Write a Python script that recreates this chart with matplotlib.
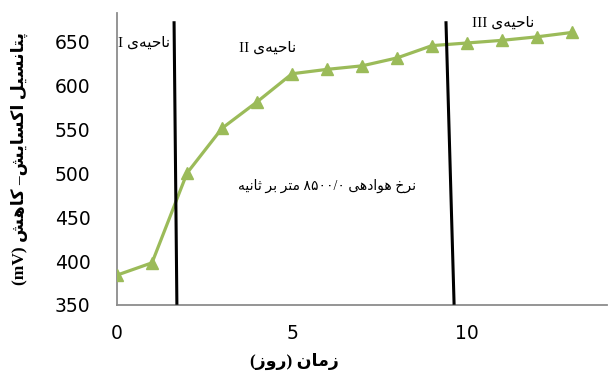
import matplotlib
matplotlib.use('Agg')
import matplotlib.pyplot as plt

# ---- data ----
days = [0, 1, 2, 3, 4, 5, 6, 7, 8, 9, 10, 11, 12, 13]
potential = [384, 398, 500, 551, 581, 613, 618, 622, 631, 645, 648, 651, 655, 660]
boundary1_x = [1.71, 1.63]
boundary2_x = [9.63, 9.40]
boundary_y = [352, 671]
xticks = [0, 5, 10]
yticks = [350, 400, 450, 500, 550, 600, 650]

# ---- simple Persian shaping (matplotlib has no bidi/shaping) ----
DUAL = {
    'ب': ('\uFE8F', '\uFE90', '\uFE91', '\uFE92'),
    'پ': ('\uFB56', '\uFB57', '\uFB58', '\uFB59'),
    'ت': ('\uFE95', '\uFE96', '\uFE97', '\uFE98'),
    'ث': ('\uFE99', '\uFE9A', '\uFE9B', '\uFE9C'),
    'ح': ('\uFEA1', '\uFEA2', '\uFEA3', '\uFEA4'),
    'خ': ('\uFEA5', '\uFEA6', '\uFEA7', '\uFEA8'),
    'س': ('\uFEB1', '\uFEB2', '\uFEB3', '\uFEB4'),
    'ش': ('\uFEB5', '\uFEB6', '\uFEB7', '\uFEB8'),
    'ل': ('\uFEDD', '\uFEDE', '\uFEDF', '\uFEE0'),
    'م': ('\uFEE1', '\uFEE2', '\uFEE3', '\uFEE4'),
    'ن': ('\uFEE5', '\uFEE6', '\uFEE7', '\uFEE8'),
    'ه': ('\uFEE9', '\uFEEA', '\uFEEB', '\uFEEC'),
    'ی': ('\uFBFC', '\uFBFD', '\uFBFE', '\uFBFF'),
    'ک': ('\uFB8E', '\uFB8F', '\uFB90', '\uFB91'),
}
RIGHT = {
    'ا': ('\uFE8D', '\uFE8E'),
    'د': ('\uFEA9', '\uFEAA'),
    'ر': ('\uFEAD', '\uFEAE'),
    'ز': ('\uFEAF', '\uFEB0'),
    'و': ('\uFEED', '\uFEEE'),
}


def shape(word):
    out = []
    for i, c in enumerate(word):
        if c not in DUAL and c not in RIGHT:
            if c != '\u200c':
                out.append(c)
            continue
        prev = word[i - 1] if i > 0 else None
        nxt = word[i + 1] if i + 1 < len(word) else None
        jp = prev in DUAL
        if c in RIGHT:
            out.append(RIGHT[c][1] if jp else RIGHT[c][0])
        else:
            jn = nxt in DUAL or nxt in RIGHT
            f = DUAL[c]
            out.append(f[3] if (jp and jn) else f[2] if jn else f[1] if jp else f[0])
    return ''.join(out)


def R(word):
    return shape(word)[::-1]


zone = R('ناحیه\u200cی')
label_zone1 = 'I ' + zone
label_zone2 = 'II ' + zone
label_zone3 = 'III ' + zone
label_rate = (R('ثانیه') + ' ' + R('بر') + ' ' + R('متر') + ' ' +
              '۸۵۰۰/۰' + ' ' + R('هوادهی') + ' ' + R('نرخ'))
ylabel_txt = '(mV) ' + R('کاهش') + ' \u2013' + R('اکسایش') + ' ' + R('پتانسیل')
xlabel_txt = '(' + R('روز') + ') ' + R('زمان')

FAM = ['Liberation Serif', 'DejaVu Sans']

# ---- figure ----
fig = plt.figure(figsize=(6.14, 3.74), dpi=100)
ax = fig.add_axes([0.1906, 0.1845, 0.798, 0.7805])

green = '#9BBB59'
ax.plot(days, potential, color=green, lw=2.3, marker='^', ms=8.5,
        mfc=green, mec=green, zorder=3)

ax.plot(boundary1_x, boundary_y, color='black', lw=2.2, zorder=4)
ax.plot(boundary2_x, boundary_y, color='black', lw=2.2, zorder=4)

ax.set_xlim(0, 14)
ax.set_ylim(350, 682)
ax.set_xticks(xticks)
ax.set_yticks(yticks)
ax.tick_params(axis='both', length=0, labelsize=13.5, labelcolor='black')
ax.tick_params(axis='y', pad=19)
ax.tick_params(axis='x', pad=14)

for s in ['top', 'right']:
    ax.spines[s].set_visible(False)
for s in ['left', 'bottom']:
    ax.spines[s].set_color('#8c8c8c')
    ax.spines[s].set_linewidth(1.3)

ax.text(0.77, 648, label_zone1, family=FAM, fontsize=11, ha='center', va='center')
ax.text(4.31, 642, label_zone2, family=FAM, fontsize=11, ha='center', va='center')
ax.text(11.03, 671, label_zone3, family=FAM, fontsize=11, ha='center', va='center')
ax.text(6.0, 486, label_rate, family=FAM, fontsize=10, ha='center', va='center')

ax.set_ylabel(ylabel_txt, family=FAM, fontsize=12.5, fontweight='bold')
ax.yaxis.set_label_coords(-0.182, 0.5)
ax.set_xlabel(xlabel_txt, family=FAM, fontsize=12.5, fontweight='bold')
ax.xaxis.set_label_coords(0.363, -0.165)

fig.savefig('out.png', dpi=100)
